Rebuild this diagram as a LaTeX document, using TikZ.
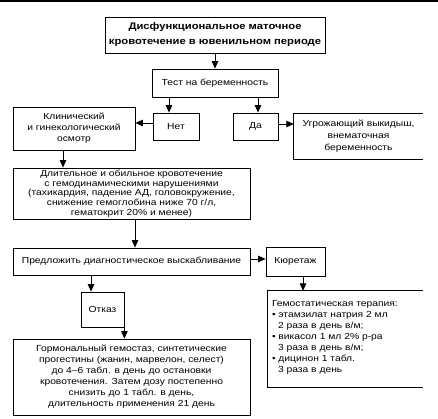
\documentclass[tikz,border=0pt]{standalone}
\usepackage{fontspec}
\setmainfont{Liberation Sans}[FakeStretch=1.17]
\usetikzlibrary{arrows.meta}
\begin{document}
\begin{tikzpicture}[x=1pt,y=-1pt,
  box/.style={draw, line width=0.8pt, rectangle, inner sep=0pt, align=center,
    font=\fontsize{8.8}{11}\selectfont},
  openbox/.style={rectangle, inner sep=0pt},
  txt/.style={inner sep=0pt, align=left, font=\fontsize{8.8}{11}\selectfont},
  side/.style={line width=0.8pt},
  arr/.style={line width=0.8pt, -{Triangle[length=7.5pt,width=6.5pt]}},
  rule/.style={line width=1.5pt}
]
\useasboundingbox (0,0) rectangle (438,419);
\coordinate (rl) at (0,0.8);
\coordinate (rr) at (438,0.8);
\draw[rule] (rl) -- (rr);

\node[box, minimum width=220pt, minimum height=36pt,
  font=\bfseries\fontsize{9.6}{15}\selectfont] (title) at (215,35)
  {Дисфункциональное маточное\\кровотечение в ювенильном периоде};
\node[box, minimum width=126pt, minimum height=28pt] (test) at (215,83) {Тест на беременность};
\node[box, minimum width=46pt, minimum height=27pt] (net) at (176,126.5) {Нет};
\node[box, minimum width=45pt, minimum height=27pt] (da) at (255.5,126.5) {Да};
\node[box, minimum width=122pt, minimum height=43pt] (clin) at (74,128.5)
  {Клинический\\и гинекологический\\осмотр};
\node[openbox, minimum width=129pt, minimum height=45pt, align=center,
  font=\fontsize{8.8}{12}\selectfont] (ugr) at (358.5,136.5)
  {Угрожающий выкидыш,\\внематочная\\беременность};
\draw[side] (ugr.north east) -- (ugr.north west) -- (ugr.south west) -- (ugr.south east);
\node[box, minimum width=237pt, minimum height=51pt,
  font=\fontsize{8.8}{9.6}\selectfont] (long) at (131.5,193.5)
  {Длительное и обильное кровотечение\\с гемодинамическими нарушениями\\(тахикардия, падение АД, головокружение,\\снижение гемоглобина ниже 70 г/л,\\гематокрит 20\% и менее)};
\node[box, minimum width=237pt, minimum height=27pt] (pred) at (131.5,261.5)
  {Предложить диагностическое выскабливание};
\node[box, minimum width=59pt, minimum height=29pt] (kur) at (295.5,261.5) {Кюретаж};
\node[box, minimum width=43pt, minimum height=35pt] (otk) at (102.5,309.5) {Отказ};
\node[box, minimum width=237pt, minimum height=76pt] (horm) at (131.5,377)
  {Гормональный гемостаз, синтетические\\прогестины (жанин, марвелон, селест)\\до 4–6 табл. в день до остановки\\кровотечения. Затем дозу постепенно\\снизить до 1 табл. в день,\\длительность применения 21 день};
\node[openbox, minimum width=155pt, minimum height=96pt] (hem) at (345.5,339) {};
\draw[side] (hem.north east) -- (hem.north west) -- (hem.south west) -- (hem.south east);
\node[txt, anchor=north west] (hemtxt) at ([xshift=4pt,yshift=-9pt]hem.north west)
  {Гемостатическая терапия:\\
   • этамзилат натрия 2 мл\\
   \hspace*{6pt}2 раза в день в/м;\\
   • викасол 1 мл 2\% р-ра\\
   \hspace*{6pt}3 раза в день в/м;\\
   • дицинон 1 табл.\\
   \hspace*{6pt}3 раза в день};

\draw[arr] (title.south) -- (test.north);
\draw[arr] (test.south -| 169,0) -- (net.north -| 169,0);
\draw[arr] (test.south -| 258,0) -- (da.north -| 258,0);
\draw[arr] (net.west |- 0,123) -- (clin.east |- 0,123);
\draw[arr] (da.east |- 0,124) -- (ugr.west |- 0,124);
\draw[arr] (clin.south -| 63,0) -- (long.north -| 63,0);
\draw[arr] (long.south -| 135,0) -- (pred.north -| 135,0);
\draw[arr] (pred.east |- 0,259) -- (kur.west |- 0,259);
\draw[arr] (pred.south -| 91,0) -- (otk.north -| 91,0);
\draw[arr] (otk.south east) -- (horm.north -| otk.south east);
\draw[arr] (kur.south -| 303,0) -- (hem.north -| 303,0);
\end{tikzpicture}
\end{document}
